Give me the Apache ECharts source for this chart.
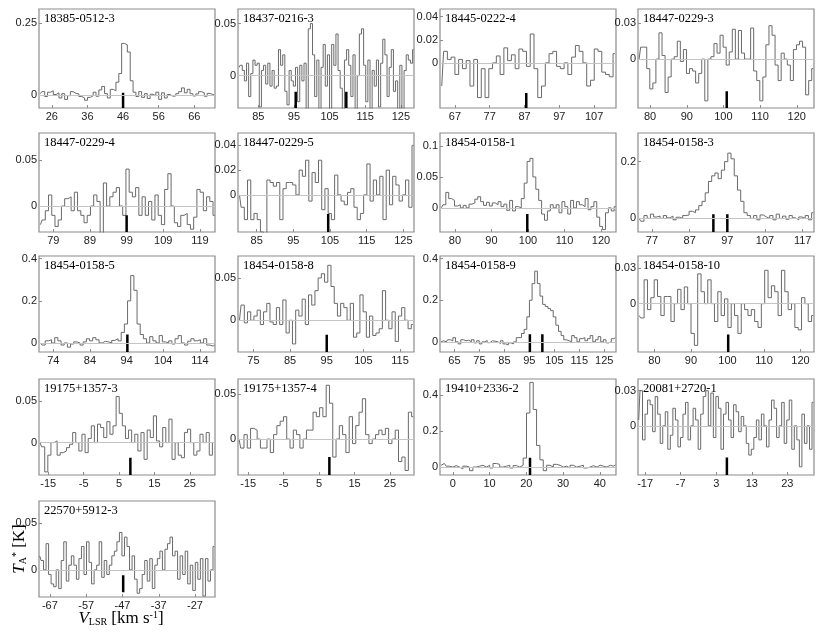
<!DOCTYPE html>
<html>
<head>
<meta charset="utf-8">
<script src="https://cdn.jsdelivr.net/npm/echarts@6/dist/echarts.min.js"></script>
<style>
  html, body { margin: 0; padding: 0; background: #fff; }
  #main { width: 830px; height: 636px; }
</style>
</head>
<body>
<div id="main"></div>
<script>
// source names, one per panel
const names = ['18385-0512-3', '18437-0216-3', '18445-0222-4', '18447-0229-3',
  '18447-0229-4', '18447-0229-5', '18454-0158-1', '18454-0158-3',
  '18454-0158-5', '18454-0158-8', '18454-0158-9', '18454-0158-10',
  '19175+1357-3', '19175+1357-4', '19410+2336-2', '20081+2720-1',
  '22570+5912-3'];

// first / last channel velocity (km/s)
const velFirst = [22.8, 79.6, 63.2, 77.0, 75.5, 80.3, 76.3, 73.6, 70.5, 71.2, 59.6, 75.8, -17.3, -17.6, -3.2, -18.8, -69.8];
const velLast = [71.6, 128.6, 113.0, 124.5, 123.0, 127.8, 124.0, 119.8, 118.0, 118.5, 129.4, 123.5, 31.8, 31.6, 44.2, 30.3, -21.7];

// axis ranges
const xRange = [[22.4, 71.8], [79.3, 128.7], [62.7, 113.3], [76.7, 124.7], [75.1, 123.1], [79.9, 127.9],
  [75.9, 124.1], [73.3, 120.0], [70.1, 118.1], [70.8, 118.8], [59.2, 129.7], [75.5, 123.7],
  [-17.6, 32.1], [-17.9, 31.8], [-3.5, 44.4], [-19, 30.5], [-70, -21.5]];
const yRange = [[-0.045, 0.30], [-0.031, 0.064], [-0.039, 0.0466], [-0.041, 0.042], [-0.028, 0.079],
  [-0.030, 0.050], [-0.039, 0.121], [-0.048, 0.301], [-0.043, 0.413], [-0.0375, 0.076],
  [-0.049, 0.413], [-0.0406, 0.040], [-0.0387, 0.076], [-0.040, 0.067], [-0.044, 0.489],
  [-0.042, 0.040], [-0.029, 0.0736]];

// tick labels
const xTicks = [[26, 36, 46, 56, 66], [85, 95, 105, 115, 125], [67, 77, 87, 97, 107], [80, 90, 100, 110, 120],
  [79, 89, 99, 109, 119], [85, 95, 105, 115, 125], [80, 90, 100, 110, 120], [77, 87, 97, 107, 117],
  [74, 84, 94, 104, 114], [75, 85, 95, 105, 115], [65, 75, 85, 95, 105, 115, 125], [80, 90, 100, 110, 120],
  [-15, -5, 5, 15, 25], [-15, -5, 5, 15, 25], [0, 10, 20, 30, 40], [-17, -7, 3, 13, 23],
  [-67, -57, -47, -37, -27]];
const yTicks = [[0, 0.25], [0, 0.05], [0, 0.02, 0.04], [0, 0.03], [0, 0.05], [0, 0.02, 0.04],
  [0, 0.05, 0.1], [0, 0.2], [0, 0.2, 0.4], [0, 0.05], [0, 0.2, 0.4], [0, 0.03],
  [0, 0.05], [0, 0.05], [0, 0.2, 0.4], [0, 0.03], [0, 0.05]];

// velocity markers (thick black bars) and their vertical extent
const markVel = [[46], [95.5, 109.7], [87.5], [100.9], [99], [104.5], [99.8], [93.3, 97], [94.2], [95],
  [95.2, 100.2], [100.2], [8.2], [7.9], [21], [6], [-46.8]];
const markTop = [0.008, -0.0154, -0.026, -0.027, -0.010, -0.0155, -0.010, 0.015, 0.04, -0.017,
  0.036, -0.026, -0.018, -0.020, 0.052, -0.027, -0.0057];
const markBottom = [-0.045, -0.031, -0.039, -0.041, -0.028, -0.030, -0.039, -0.048, -0.043, -0.0375,
  -0.049, -0.0406, -0.0387, -0.040, -0.044, -0.042, -0.024];

// antenna temperature spectra (K)
const sp1 = [0.005, 0.012, -0.005, 0.01, 0.015, 0.002, 0.008, -0.01, 0.005, -0.015, -0.002, 0.012, 0.006, 0.004, -0.005, -0.01,
  -0.018, -0.008, -0.002, 0.01, -0.004, 0.018, 0.03, 0.005, -0.01, 0.02, 0.015, 0.045, 0.075, 0.18, 0.175, 0.15,
  0.05, 0.01, -0.005, 0.012, -0.008, 0.005, -0.012, 0.003, -0.003, 0.01, -0.015, 0.008, -0.01, 0.002, -0.004, -0.003,
  0.005, 0.012, 0.025, 0.008, 0.02, 0.005, -0.003, 0.004, 0.012, 0.008, -0.004, 0.006, 0.002, 0.001];
const sp2 = [0.008, 0.01, 0.005, -0.005, 0.012, -0.02, 0.002, 0.015, 0.01, 0.012, -0.03, 0.005, 0.01, -0.008, 0.012, -0.01,
  0.005, -0.012, -0.01, 0.025, 0.01, 0.02, -0.015, -0.028, 0.005, -0.005, -0.01, 0.008, -0.025, 0.01, -0.005, 0.012,
  -0.035, 0.045, 0.05, 0.02, -0.02, 0.015, -0.04, 0.008, 0.03, -0.01, 0.02, -0.035, 0.03, 0.01, 0.04, 0.005,
  -0.012, -0.04, 0.015, 0.025, 0.01, -0.02, 0.02, -0.035, 0.0, 0.04, 0.045, 0.01, -0.025, 0.015, -0.04, 0.005,
  -0.01, 0.015, -0.03, 0.012, 0.035, 0.02, -0.02, 0.008, 0.025, -0.015, -0.005, -0.04, 0.01, -0.04, 0.005, 0.02,
  0.015, 0.012, 0.025];
const sp3 = [-0.02, 0.01, 0.003, 0.005, -0.01, 0.003, -0.005, 0.002, -0.02, 0.003, -0.03, -0.005, -0.03, -0.005, 0.0, 0.006,
  -0.01, 0.013, 0.002, 0.007, -0.005, 0.012, 0.01, -0.003, 0.025, -0.005, -0.03, -0.02, 0.0, 0.008, 0.01, -0.003,
  -0.005, 0.0, -0.01, 0.005, 0.015, 0.01, 0.0, -0.02, -0.015, 0.012, 0.01, -0.008, -0.01, -0.012, 0.008];
const sp4 = [0.0, 0.01, 0.01, -0.008, -0.025, -0.02, 0.0, 0.022, 0.003, -0.028, -0.015, 0.0, 0.002, 0.015, -0.002, 0.008,
  -0.012, -0.008, -0.01, -0.02, -0.012, 0.0, -0.035, 0.0, 0.002, 0.013, 0.005, 0.02, 0.01, -0.005, 0.006, 0.025,
  0.0, 0.024, 0.005, 0.0, 0.0, 0.026, -0.01, -0.018, -0.035, -0.015, 0.012, 0.028, 0.02, -0.005, -0.018, 0.005,
  0.0, -0.005, -0.018, 0.008, 0.012, 0.015, 0.01, -0.03, -0.018, -0.008];
const sp5 = [-0.02, -0.015, -0.005, 0.012, -0.01, -0.022, -0.015, 0.0, 0.008, 0.01, -0.005, 0.015, -0.005, -0.01, -0.018, -0.01,
  0.0, 0.012, 0.005, -0.03, 0.025, 0.0, 0.01, 0.015, 0.02, 0.0, -0.01, 0.04, 0.015, 0.01, 0.02, -0.01,
  0.01, -0.01, 0.005, -0.015, 0.012, -0.01, -0.02, 0.018, 0.035, 0.0, -0.018, -0.022, -0.01, -0.008, -0.02, -0.025,
  -0.012, 0.018, 0.015, -0.005, 0.01, 0.005, -0.01];
const sp6 = [0.0, -0.01, -0.02, 0.012, -0.02, -0.015, -0.02, -0.03, -0.035, 0.012, 0.01, 0.007, 0.01, -0.02, 0.005, 0.01,
  0.01, 0.008, 0.0, 0.02, 0.015, 0.028, -0.005, 0.018, 0.01, 0.028, -0.012, 0.005, -0.015, -0.02, 0.016, 0.0,
  -0.005, -0.008, 0.002, 0.005, -0.01, -0.02, -0.015, 0.0, 0.025, -0.005, 0.012, 0.0, 0.015, -0.02, 0.02, -0.008,
  0.015, 0.008, -0.005, 0.0, 0.012, -0.01, 0.04];
const sp7 = [0.0, 0.005, 0.025, 0.015, 0.012, 0.003, 0.005, 0.0, 0.004, 0.0, 0.006, 0.008, 0.014, 0.018, 0.01, 0.004,
  0.009, 0.003, 0.008, 0.005, 0.01, 0.002, 0.006, -0.004, 0.012, -0.005, 0.002, 0.0, 0.015, 0.04, 0.075, 0.08,
  0.05, 0.03, 0.012, -0.01, -0.02, -0.005, 0.005, 0.0, 0.005, -0.008, 0.01, 0.002, -0.01, 0.012, 0.0, 0.01,
  0.005, 0.002, 0.015, -0.003, 0.002, 0.01, -0.015, -0.03, -0.035, -0.008, 0.0, -0.005, 0.002];
const sp8 = [0.0, -0.01, 0.01, 0.0, 0.015, 0.005, 0.008, 0.0, 0.01, 0.002, 0.008, -0.005, 0.004, 0.0, 0.01, 0.012,
  0.025, 0.02, 0.03, 0.045, 0.06, 0.09, 0.13, 0.15, 0.16, 0.14, 0.17, 0.2, 0.23, 0.21, 0.15, 0.1,
  0.06, 0.02, 0.01, 0.0, 0.01, -0.005, 0.012, 0.005, 0.0, 0.01, -0.005, 0.015, 0.0, 0.008, -0.003, 0.01,
  0.002, -0.005, 0.005, 0.0, 0.01, -0.005, 0.02];
const sp9 = [0.0, -0.01, 0.01, 0.015, 0.0, 0.025, 0.01, -0.01, 0.0, -0.02, -0.005, 0.005, 0.0, -0.01, 0.005, 0.02,
  0.01, 0.025, 0.015, 0.0, 0.008, 0.005, 0.0, 0.012, 0.02, 0.01, 0.05, 0.09, 0.2, 0.32, 0.25, 0.09,
  0.04, 0.02, 0.0, 0.03, 0.01, 0.0, 0.035, 0.005, 0.0, 0.01, -0.005, 0.02, 0.035, 0.0, -0.01, 0.008,
  0.02, 0.01, 0.015, 0.0, 0.02, -0.01, -0.015, -0.01];
const sp10 = [0.0, 0.018, -0.003, 0.01, 0.0, 0.005, 0.012, -0.005, 0.01, 0.02, -0.002, -0.005, 0.015, -0.005, 0.024, -0.015,
  0.0, -0.028, 0.012, 0.005, 0.025, -0.005, 0.03, 0.018, 0.035, 0.05, 0.055, 0.045, 0.065, 0.04, 0.02, 0.005,
  0.02, 0.015, 0.0, 0.02, -0.02, -0.015, 0.03, 0.01, -0.02, 0.005, -0.018, -0.015, -0.01, 0.035, 0.0, -0.01,
  0.01, -0.025, 0.005, 0.015, 0.0, -0.01, -0.005];
const sp11 = [0.0, 0.005, 0.0, 0.01, 0.005, 0.02, 0.0, -0.01, 0.01, 0.005, 0.008, 0.0, 0.01, -0.005, 0.005, -0.01,
  0.0, 0.006, -0.004, 0.005, 0.003, 0.0, -0.008, 0.005, -0.01, -0.015, -0.005, -0.01, 0.0, 0.02, 0.02, 0.04,
  0.06, 0.12, 0.2, 0.28, 0.34, 0.28, 0.22, 0.18, 0.17, 0.16, 0.15, 0.12, 0.08, 0.05, 0.03, 0.01,
  0.005, 0.0, 0.03, 0.02, 0.0, 0.015, 0.02, 0.005, 0.015, 0.03, 0.0, 0.01, 0.025, 0.0, 0.01, -0.005,
  0.0, 0.015, 0.02];
const sp12 = [-0.01, -0.012, 0.02, -0.005, 0.005, 0.02, 0.006, -0.01, 0.006, 0.006, -0.015, 0.0, 0.012, -0.005, 0.014, 0.0,
  -0.025, -0.035, 0.025, 0.01, 0.0, 0.02, 0.0, -0.015, 0.01, -0.01, 0.004, -0.02, 0.0, -0.01, -0.025, 0.0,
  -0.005, -0.01, -0.005, -0.015, -0.02, 0.0, 0.028, 0.005, 0.015, 0.01, -0.01, 0.028, 0.01, -0.005, 0.0, -0.02,
  -0.022, 0.005, 0.0, -0.015, -0.01];
const sp13 = [0.0, -0.005, -0.035, -0.015, 0.0, 0.002, -0.015, -0.012, -0.01, -0.006, -0.002, 0.012, 0.0, -0.01, 0.01, -0.012,
  0.005, 0.02, 0.0, 0.022, 0.018, 0.006, 0.025, 0.01, 0.02, 0.055, 0.035, 0.02, 0.005, 0.015, 0.0, 0.01,
  -0.01, 0.012, -0.02, 0.015, 0.006, 0.032, 0.002, -0.005, 0.018, 0.0, 0.028, -0.02, 0.0, -0.015, -0.018, 0.012,
  0.016, 0.0, -0.015, -0.01, 0.01, 0.0, 0.012, -0.015, 0.0];
const sp14 = [0.0, -0.01, 0.005, -0.01, 0.012, 0.01, 0.0, -0.01, -0.01, 0.0, -0.015, 0.005, 0.015, 0.02, 0.025, 0.0,
  -0.01, 0.01, 0.005, -0.01, 0.0, 0.01, 0.01, 0.03, 0.025, 0.035, 0.025, 0.06, 0.04, -0.02, 0.0, 0.015,
  0.005, -0.015, 0.025, -0.005, 0.015, 0.03, 0.045, 0.005, -0.005, 0.0, 0.005, 0.01, 0.005, 0.012, -0.005, 0.0,
  0.01, -0.025, -0.02, -0.035, 0.03, 0.025];
const sp15 = [0.01, 0.02, 0.005, 0.0, 0.008, 0.0, -0.01, 0.005, 0.0, -0.02, 0.0, 0.005, 0.01, 0.0, 0.01, -0.005,
  0.02, 0.015, 0.0, 0.005, 0.01, -0.005, 0.008, 0.0, 0.01, 0.05, 0.3, 0.47, 0.32, 0.12, 0.04, -0.02,
  0.01, 0.0, 0.015, 0.01, 0.0, 0.005, -0.005, 0.01, 0.0, 0.005, 0.01, -0.005, 0.0, 0.008, 0.0, 0.01,
  0.005, 0.0, 0.01, 0.005, 0.012];
const sp16 = [0.005, 0.03, -0.012, 0.01, 0.022, 0.018, -0.005, 0.025, 0.01, -0.015, 0.0, 0.012, -0.02, -0.008, 0.015, 0.005,
  -0.018, -0.01, 0.01, 0.02, -0.012, 0.0, 0.015, 0.005, -0.02, 0.01, 0.025, 0.03, 0.0, 0.028, -0.01, 0.025,
  0.015, -0.02, 0.01, 0.02, 0.005, -0.01, 0.018, 0.012, -0.005, 0.008, 0.0, -0.015, -0.025, -0.02, -0.01, 0.005,
  -0.012, 0.01, 0.0, -0.018, 0.005, 0.022, 0.015, -0.01, 0.0, 0.02, -0.015, 0.005, 0.022, -0.02, 0.0, -0.012,
  -0.035, 0.01, -0.015, 0.0, -0.02, 0.02];
const sp17 = [0.015, 0.01, 0.0, 0.028, -0.005, -0.015, -0.018, 0.0, -0.02, 0.01, 0.03, -0.012, 0.005, 0.015, 0.005, -0.01,
  0.012, 0.025, -0.005, 0.03, 0.008, -0.015, 0.0, 0.005, 0.03, -0.008, 0.01, -0.005, 0.005, 0.015, 0.02, 0.03,
  0.04, 0.015, 0.035, 0.025, 0.0, 0.015, -0.01, -0.025, -0.02, -0.005, 0.01, -0.012, 0.012, -0.02, 0.005, 0.012,
  0.02, 0.0, 0.022, 0.028, 0.035, 0.015, 0.02, -0.01, 0.015, -0.005, 0.02, -0.015, 0.005, -0.022, 0.008, -0.01,
  0.012, -0.028, 0.012, -0.012, 0.0, 0.025];
const spectra = [sp1, sp2, sp3, sp4, sp5, sp6, sp7, sp8, sp9, sp10, sp11, sp12, sp13, sp14, sp15, sp16, sp17];

const chart = echarts.init(document.getElementById('main'));

const colLeft = [39, 238, 440, 638];
const rowTop = [9, 133, 256, 379, 501];
const rowH = [99, 99, 96, 96, 96];
const boxW = 176;
const boxColor = '#8c8c8c';
const sans = '"Liberation Sans", Arial, sans-serif';
const serif = '"Liberation Serif", "Times New Roman", serif';

const grids = [], xAxes = [], yAxes = [], series = [], titles = [];

names.forEach((name, i) => {
  const r = Math.floor(i / 4), c = i % 4;
  grids.push({
    left: colLeft[c], top: rowTop[r], width: boxW, height: rowH[r],
    show: true, borderColor: boxColor, borderWidth: 1.2,
    containLabel: false, outerBoundsMode: 'none'
  });
  xAxes.push({
    type: 'value', gridIndex: i, min: xRange[i][0], max: xRange[i][1],
    axisLine: { show: false, onZero: false }, splitLine: { show: false },
    axisTick: { show: true, inside: true, length: 3, customValues: xTicks[i], lineStyle: { color: boxColor } },
    axisLabel: { customValues: xTicks[i], fontFamily: sans, fontSize: 11, color: '#222', margin: 3 }
  });
  yAxes.push({
    type: 'value', gridIndex: i, min: yRange[i][0], max: yRange[i][1],
    axisLine: { show: false, onZero: false }, splitLine: { show: false },
    axisTick: { show: true, inside: true, length: 3, customValues: yTicks[i], lineStyle: { color: boxColor } },
    axisLabel: { customValues: yTicks[i], fontFamily: sans, fontSize: 11, color: '#222', margin: 2 }
  });
  titles.push({
    text: name, left: colLeft[c] + 5, top: rowTop[r] + 3, padding: 0,
    textStyle: { fontFamily: serif, fontSize: 12.5, fontWeight: 'normal', color: '#000' }
  });

  // spectrum as histogram steps
  const spec = spectra[i];
  const dv = (velLast[i] - velFirst[i]) / (spec.length - 1);
  series.push({
    type: 'line', xAxisIndex: i, yAxisIndex: i, step: 'middle', symbol: 'none',
    data: spec.map((t, k) => [velFirst[i] + k * dv, t]),
    lineStyle: { color: '#6a6a6a', width: 1 },
    clip: true, z: 3,
    markLine: {
      silent: true, symbol: 'none', label: { show: false }, animation: false,
      lineStyle: { color: '#c4c4c4', width: 1, type: 'solid' },
      data: [{ yAxis: 0 }]
    }
  });
  // velocity markers
  markVel[i].forEach(v => {
    series.push({
      type: 'line', xAxisIndex: i, yAxisIndex: i, symbol: 'none', z: 4,
      data: [[v, markTop[i]], [v, markBottom[i]]],
      lineStyle: { color: '#000', width: 2.5 }
    });
  });
});

const nameRich = {
  it: { fontFamily: serif, fontStyle: 'italic', fontSize: 17 },
  sub: { fontFamily: serif, fontSize: 10, verticalAlign: 'bottom', padding: [6, 0, 0, 0] },
  sup: { fontFamily: serif, fontSize: 10, verticalAlign: 'top', padding: [0, 0, 6, 0] },
  n: { fontFamily: serif, fontSize: 17 }
};

const option = {
  animation: false,
  backgroundColor: '#fff',
  title: titles,
  grid: grids,
  xAxis: xAxes,
  yAxis: yAxes,
  series: series,
  graphic: [
    {
      type: 'text', x: 20, y: 549, rotation: Math.PI / 2,
      style: {
        text: '{it|T}{sub|A}{sup|*}{n| [K]}',
        align: 'center', verticalAlign: 'middle', fill: '#000', rich: nameRich
      }
    },
    {
      type: 'text', x: 121, y: 619,
      style: {
        text: '{it|V}{sub|LSR}{n| [km s}{sup|-1}{n|]}',
        align: 'center', verticalAlign: 'middle', fill: '#000', rich: nameRich
      }
    }
  ]
};

chart.setOption(option);
window.addEventListener('resize', () => chart.resize());
</script>
</body>
</html>
